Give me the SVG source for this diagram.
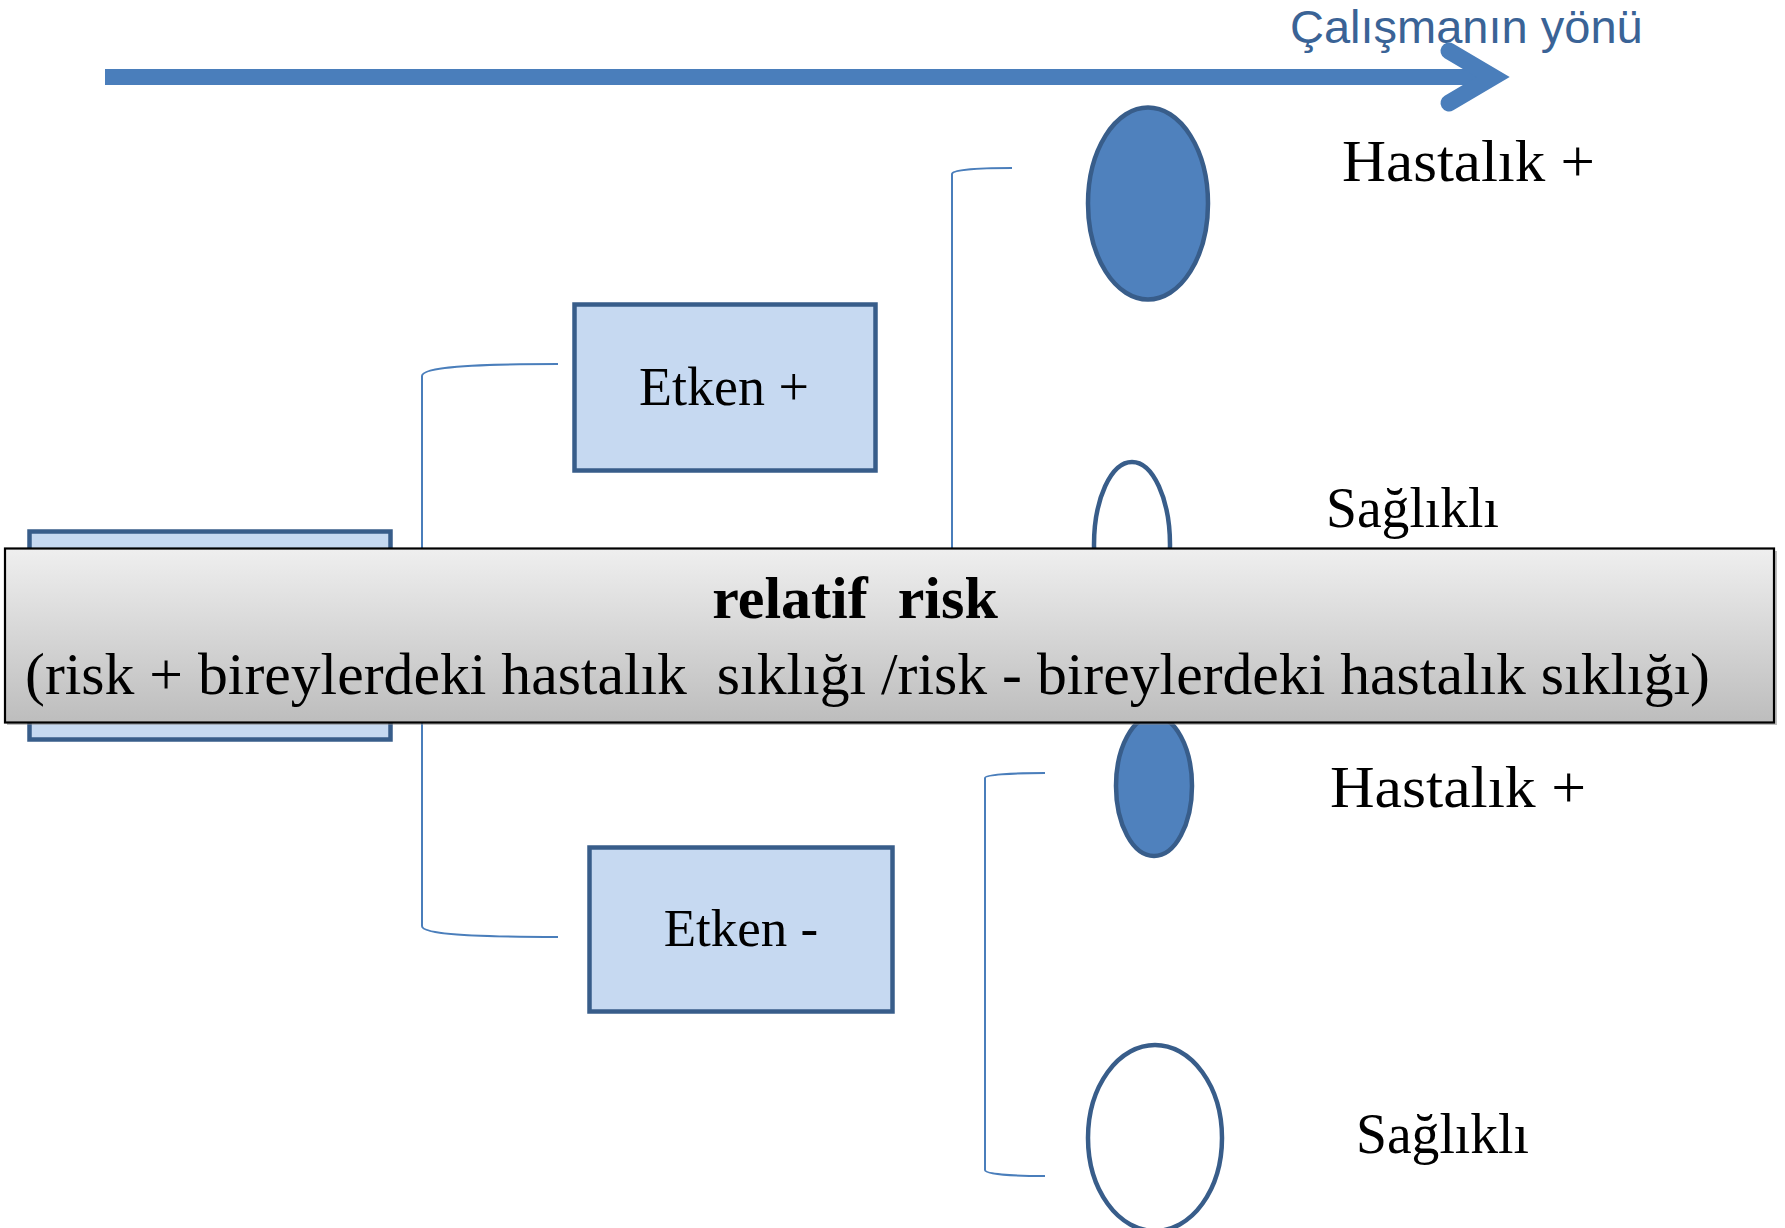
<svg xmlns="http://www.w3.org/2000/svg" width="1785" height="1228" viewBox="0 0 1785 1228">
  <defs>
    <linearGradient id="bannerGrad" x1="0" y1="0" x2="0" y2="1">
      <stop offset="0" stop-color="#EFEFEF"/>
      <stop offset="1" stop-color="#BDBDBD"/>
    </linearGradient>
  </defs>
  <style>
    .box { fill: #C6D9F1; stroke: #385D8A; stroke-width: 4.5; }
    .dis { fill: #4F81BD; stroke: #385D8A; stroke-width: 4.5; }
    .ok { fill: #FFFFFF; stroke: #385D8A; stroke-width: 4.5; }
    .conn { fill: none; stroke: #4A7EBB; stroke-width: 2; }
    .lbl { font-family: "Liberation Serif", "Times New Roman", serif; fill: #000000; }
    .dir { font-family: "Liberation Sans", Arial, sans-serif; fill: #3A6396; font-size: 47px; }
  </style>

  <g id="direction">
    <line x1="105" y1="77" x2="1484" y2="77" stroke="#4A7EBB" stroke-width="16"/>
    <polyline points="1449,51 1493,77 1449,103" fill="none" stroke="#4A7EBB" stroke-width="17" stroke-linecap="round" stroke-linejoin="miter" stroke-miterlimit="10"/>
    <text class="dir" x="1290" y="43">Çalışmanın yönü</text>
  </g>

  <g id="connectors">
    <path class="conn" d="M558,364 C470,364 422,367 422,376 L422,926 C422,934 470,937 558,937"/>
    <path class="conn" d="M1012,168 C975,168 952,170 952,174 L952,600 C952,604 975,606 1012,606"/>
    <path class="conn" d="M1045,773 C1010,773 985,775 985,778 L985,1170 C985,1174 1010,1176 1045,1176"/>
  </g>

  <g id="node-root">
    <rect class="box" x="29.5" y="531.5" width="361" height="208"/>
  </g>

  <g id="node-etken-plus">
    <rect class="box" x="574.5" y="304.5" width="301" height="166"/>
    <text class="lbl" x="724" y="405" font-size="54" text-anchor="middle">Etken +</text>
  </g>

  <g id="node-etken-minus">
    <rect class="box" x="589.5" y="847.5" width="303" height="164"/>
    <text class="lbl" x="741" y="946" font-size="53" text-anchor="middle">Etken -</text>
  </g>

  <g id="node-hastalik-1">
    <ellipse class="dis" cx="1148" cy="203.5" rx="60" ry="96"/>
    <text class="lbl" x="1342" y="181" font-size="60" textLength="253" lengthAdjust="spacingAndGlyphs">Hastalık +</text>
  </g>

  <g id="node-saglikli-1">
    <ellipse class="ok" cx="1132" cy="545" rx="38" ry="83"/>
    <text class="lbl" x="1326" y="527" font-size="58" textLength="173" lengthAdjust="spacingAndGlyphs">Sağlıklı</text>
  </g>

  <g id="node-hastalik-2">
    <ellipse class="dis" cx="1154" cy="786" rx="38" ry="70"/>
    <text class="lbl" x="1330" y="807" font-size="60" textLength="256" lengthAdjust="spacingAndGlyphs">Hastalık +</text>
  </g>

  <g id="node-saglikli-2">
    <ellipse class="ok" cx="1155" cy="1138" rx="67" ry="93"/>
    <text class="lbl" x="1356" y="1153" font-size="58" textLength="173" lengthAdjust="spacingAndGlyphs">Sağlıklı</text>
  </g>

  <g id="banner">
    <rect x="7" y="551" width="1770" height="174" fill="#7F7F7F" opacity="0.5"/>
    <rect x="5" y="548.5" width="1769" height="174" fill="url(#bannerGrad)" stroke="#000000" stroke-width="2.2"/>
    <text class="lbl" x="855" y="618" font-size="60" font-weight="bold" text-anchor="middle" xml:space="preserve">relatif  risk</text>
    <text class="lbl" x="25" y="694" font-size="60" textLength="1685" lengthAdjust="spacingAndGlyphs" xml:space="preserve">(risk + bireylerdeki hastalık  sıklığı /risk - bireylerdeki hastalık sıklığı)</text>
  </g>
</svg>
